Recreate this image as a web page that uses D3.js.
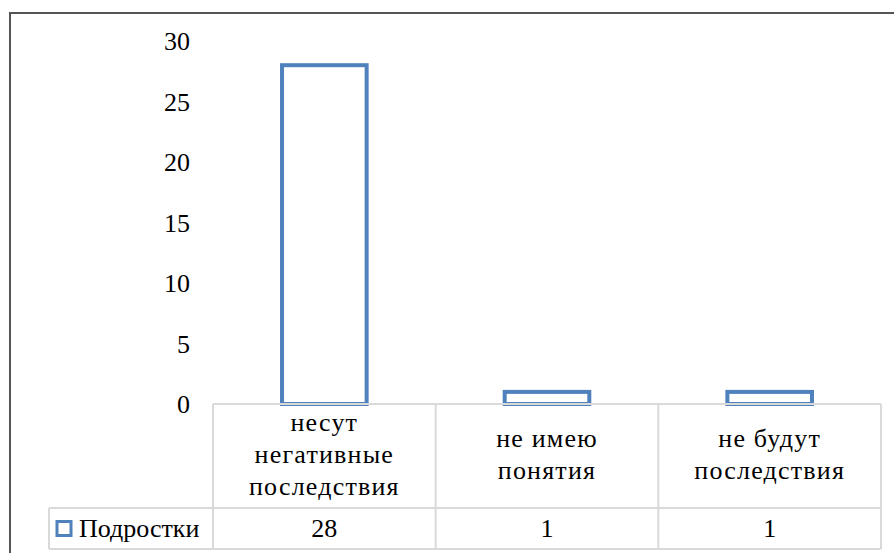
<!DOCTYPE html>
<html><head><meta charset="utf-8">
<script src="https://cdn.jsdelivr.net/npm/d3@7"></script>
<style>body{margin:0;background:#fff}</style>
</head><body>
<script>
const categories = ["несут негативные последствия", "не имею понятия", "не будут последствия"];
const categoryLines = [["несут", "негативные", "последствия"], ["не имею", "понятия"], ["не будут", "последствия"]];
const seriesName = "Подростки";
const values = [28, 1, 1];
const yTicks = [0, 5, 10, 15, 20, 25, 30];

const W = 894, H = 553;
const ff = '"Liberation Serif"';
const svg = d3.select("body").append("svg").attr("width", W).attr("height", H)
  .attr("font-family", "Liberation Serif").style("font-family", ff);
const blue = "#4f81bd", grid = "#d9d9d9";
const fs = 26;

// text first, so the serif face is resolved before anything else
const left = 213, right = 881, y0 = 404, yTop = 41;
const rowCatBottom = 508, rowDataBottom = 549, legendLeft = 49;
const x = d3.scaleBand().domain(categories).range([left, right]).padding(0);
const y = d3.scaleLinear().domain([0, 30]).range([y0, yTop]);

// legend text
const dataMid = (rowCatBottom + rowDataBottom) / 2;
svg.append("text").attr("x", 79).attr("y", dataMid + fs * 0.34).style("font-family", ff).attr("font-size", fs).text(seriesName);

// category labels
const lh = 32;
categories.forEach((c, i) => {
  const lines = categoryLines[i];
  const cx = x(c) + x.bandwidth() / 2;
  const mid = (y0 + rowCatBottom) / 2;
  const t = svg.append("text").attr("text-anchor", "middle").style("font-family", ff).attr("font-size", fs).style("letter-spacing", "1.2px");
  lines.forEach((ln, j) => {
    t.append("tspan").attr("x", cx).attr("y", mid + (j - (lines.length - 1) / 2) * lh + fs * 0.25).text(ln);
  });
});

// data row
values.forEach((v, i) => {
  svg.append("text").attr("x", x(categories[i]) + x.bandwidth() / 2).attr("y", dataMid + fs * 0.34)
    .attr("text-anchor", "middle").style("font-family", ff).attr("font-size", fs).text(v);
});

// y axis labels (no line)
const yAxis = d3.axisLeft(y).tickValues(yTicks).tickSize(0).tickPadding(0);
const gy = svg.append("g").attr("transform", `translate(190,0)`).call(yAxis);
gy.attr("font-family", null).attr("font-size", null).style("font-family", ff);
gy.select(".domain").remove();
gy.selectAll("text").style("font-family", ff).attr("font-size", fs).attr("fill", "#000").attr("dy", "0.34em");

// outer frame
svg.append("path").attr("d", `M10,${H} L10,13 L${W},13`).attr("fill", "none").attr("stroke", "#555").attr("stroke-width", 2);

// bars
const bw = x.bandwidth() * 0.38;
svg.append("g").selectAll("rect").data(values).join("rect")
  .attr("x", (d, i) => x(categories[i]) + x.bandwidth() / 2 - bw / 2)
  .attr("y", d => y(d))
  .attr("width", bw)
  .attr("height", d => y(0) - y(d))
  .attr("fill", "#fff").attr("stroke", blue).attr("stroke-width", 4);

// table grid
const g = svg.append("g").attr("stroke", grid).attr("stroke-width", 2).attr("fill", "none");
g.append("line").attr("x1", left).attr("x2", right).attr("y1", y0).attr("y2", y0);
g.append("line").attr("x1", legendLeft).attr("x2", right).attr("y1", rowCatBottom).attr("y2", rowCatBottom);
g.append("line").attr("x1", legendLeft).attr("x2", right).attr("y1", rowDataBottom).attr("y2", rowDataBottom);
g.append("line").attr("x1", legendLeft).attr("x2", legendLeft).attr("y1", rowCatBottom).attr("y2", rowDataBottom);
categories.concat([null]).forEach((c, i) => {
  const xx = c === null ? right : x(c);
  g.append("line").attr("x1", xx).attr("x2", xx).attr("y1", y0).attr("y2", rowDataBottom);
});

// legend key
svg.append("rect").attr("x", 57).attr("y", dataMid - 7).attr("width", 14).attr("height", 14)
  .attr("fill", "#fff").attr("stroke", blue).attr("stroke-width", 3);
</script>
</body></html>
